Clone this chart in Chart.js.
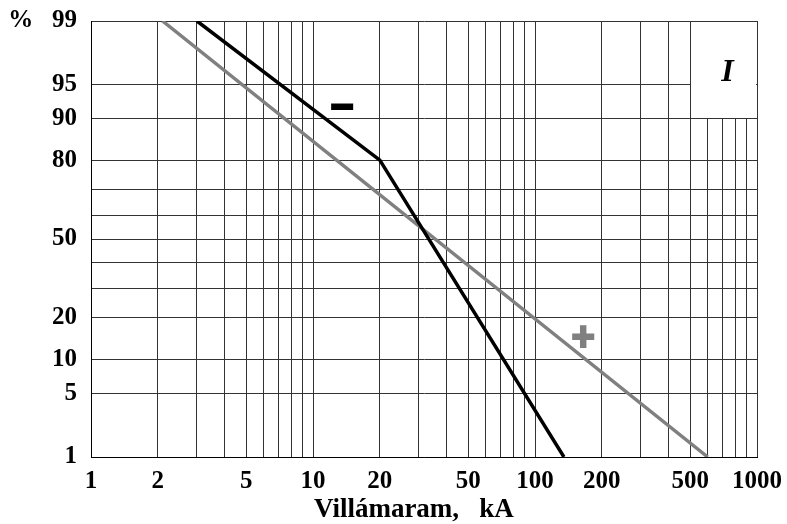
<!DOCTYPE html>
<html>
<head>
<meta charset="utf-8">
<script src="https://cdn.jsdelivr.net/npm/chart.js@4/dist/chart.umd.min.js"></script>
<style>
  html, body { margin: 0; padding: 0; background: #fff; }
  #c { display: block; }
</style>
</head>
<body>
<canvas id="c" width="787" height="524"></canvas>
<script>
// ---- data ----
const xGridValues = [1,2,3,4,5,6,7,8,9,10,20,30,40,50,60,70,80,90,100,200,300,400,500,600,700,800,900,1000];
const xTickLabels = [1,2,5,10,20,50,100,200,500,1000];
const yGridPercents = [1,5,10,20,30,40,50,60,70,80,90,95,99];
const yTickLabels = ['1','5','10','20','','','50','','','80','90','95','%   99'];

// negative flashes (black, "−")
const negCurrent = [3.0, 20, 135];
const negPercent = [99, 80, 1];
// positive flashes (grey, "+")
const posCurrent = [2.1, 600];
const posPercent = [99, 1];

const axisTitle = 'Villámaram,   kA\u00A0\u00A0\u00A0';
const panelLabel = 'I';

// ---- normal-probability axis transform (inverse normal CDF, Acklam) ----
function probit(pct) {
  const p = pct / 100;
  const a = [-3.969683028665376e+01, 2.209460984245205e+02, -2.759285104469687e+02, 1.383577518672690e+02, -3.066479806614716e+01, 2.506628277459239e+00];
  const b = [-5.447609879822406e+01, 1.615858368580409e+02, -1.556989798598866e+02, 6.680131188771972e+01, -1.328068155288572e+01];
  const c = [-7.784894002430293e-03, -3.223964580411365e-01, -2.400758277161838e+00, -2.549732539343734e+00, 4.374664141464968e+00, 2.938163982698783e+00];
  const d = [7.784695709041462e-03, 3.224671290700398e-01, 2.445134137142996e+00, 3.754408661907416e+00];
  const pl = 0.02425, ph = 1 - pl;
  let q, r;
  if (p < pl) {
    q = Math.sqrt(-2 * Math.log(p));
    return (((((c[0]*q+c[1])*q+c[2])*q+c[3])*q+c[4])*q+c[5]) / ((((d[0]*q+d[1])*q+d[2])*q+d[3])*q+1);
  } else if (p <= ph) {
    q = p - 0.5; r = q*q;
    return (((((a[0]*r+a[1])*r+a[2])*r+a[3])*r+a[4])*r+a[5])*q / (((((b[0]*r+b[1])*r+b[2])*r+b[3])*r+b[4])*r+1);
  } else {
    q = Math.sqrt(-2 * Math.log(1 - p));
    return -(((((c[0]*q+c[1])*q+c[2])*q+c[3])*q+c[4])*q+c[5]) / ((((d[0]*q+d[1])*q+d[2])*q+d[3])*q+1);
  }
}

const serif = '"Liberation Serif", "Times New Roman", serif';

const overlayPlugin = {
  id: 'overlay',
  beforeDatasetsDraw(chart) {
    const {ctx, scales: {x, y}} = chart;
    // white panel box with the "I" label (covers grid between 500-1000 kA, 90-99 %)
    const x0 = x.getPixelForValue(500), x1 = x.getPixelForValue(1000);
    const y0 = y.getPixelForValue(probit(99)), y1 = y.getPixelForValue(probit(90));
    ctx.save();
    ctx.fillStyle = '#fff';
    ctx.fillRect(Math.round(x0) + 1, Math.round(y0) + 1, Math.round(x1) - Math.round(x0) - 2, Math.round(y1) - Math.round(y0) - 2);
    ctx.fillStyle = '#000';
    ctx.font = 'italic bold 32px ' + serif;
    ctx.textAlign = 'center';
    ctx.textBaseline = 'middle';
    ctx.fillText(panelLabel, (x0 + x1) / 2 + 4, y.getPixelForValue(probit(96.2)));
    ctx.restore();
  },
  afterDatasetsDraw(chart) {
    const {ctx, scales: {x, y}} = chart;
    ctx.save();
    ctx.textAlign = 'center';
    ctx.textBaseline = 'middle';
    ctx.font = 'bold 40px "Liberation Sans", Arial, sans-serif';
    ctx.lineJoin = 'miter';
    // "−" sign for the negative curve
    ctx.fillStyle = '#000'; ctx.strokeStyle = '#000'; ctx.lineWidth = 2;
    let px = x.getPixelForValue(13.5), py = y.getPixelForValue(probit(91.8));
    ctx.fillText('\u2212', px, py); ctx.strokeText('\u2212', px, py);
    // "+" sign for the positive curve
    ctx.fillStyle = '#808080'; ctx.strokeStyle = '#808080';
    px = x.getPixelForValue(165); py = y.getPixelForValue(probit(14.4));
    ctx.fillText('+', px, py); ctx.strokeText('+', px, py);
    ctx.restore();
  }
};

new Chart(document.getElementById('c'), {
  type: 'line',
  data: {
    datasets: [
      {
        label: 'negatív',
        data: negCurrent.map((v, i) => ({x: v, y: probit(negPercent[i])})),
        borderColor: '#000', borderWidth: 3.5, pointRadius: 0, tension: 0, fill: false
      },
      {
        label: 'pozitív',
        data: posCurrent.map((v, i) => ({x: v, y: probit(posPercent[i])})),
        borderColor: '#808080', borderWidth: 3.5, pointRadius: 0, tension: 0, fill: false
      }
    ]
  },
  options: {
    responsive: false,
    animation: false,
    layout: {padding: {top: 21, right: 30, left: 0, bottom: 0}},
    plugins: {legend: {display: false}, tooltip: {enabled: false}},
    scales: {
      x: {
        type: 'logarithmic',
        min: 1, max: 1000,
        afterBuildTicks: s => { s.ticks = xGridValues.map(v => ({value: v})); },
        afterFit: s => { s.height = 67; s.paddingLeft = 0; s.paddingRight = 0; },
        grid: {color: '#333', lineWidth: 1, drawTicks: false},
        border: {color: '#000', width: 1},
        ticks: {
          autoSkip: false, maxRotation: 0, minRotation: 0, padding: 10,
          color: '#000', font: {family: serif, size: 25, weight: 'bold'},
          callback: v => xTickLabels.includes(v) ? String(v) : ''
        },
        title: {
          display: true, text: axisTitle, color: '#000',
          font: {family: serif, size: 27, weight: 'bold', lineHeight: 1.0},
          padding: {top: 0, bottom: 0}
        }
      },
      y: {
        type: 'linear',
        min: probit(yGridPercents[0]), max: probit(yGridPercents[yGridPercents.length - 1]),
        afterBuildTicks: s => { s.ticks = yGridPercents.map(p => ({value: probit(p)})); },
        afterFit: s => { s.width = 91; s.paddingTop = 0; s.paddingBottom = 0; },
        grid: {color: '#333', lineWidth: 1, drawTicks: false},
        border: {color: '#000', width: 1},
        ticks: {
          autoSkip: false, padding: 14,
          color: '#000', font: {family: serif, size: 25, weight: 'bold'},
          callback: (v, i) => yTickLabels[i]
        }
      }
    }
  },
  plugins: [overlayPlugin]
});
</script>
</body>
</html>
